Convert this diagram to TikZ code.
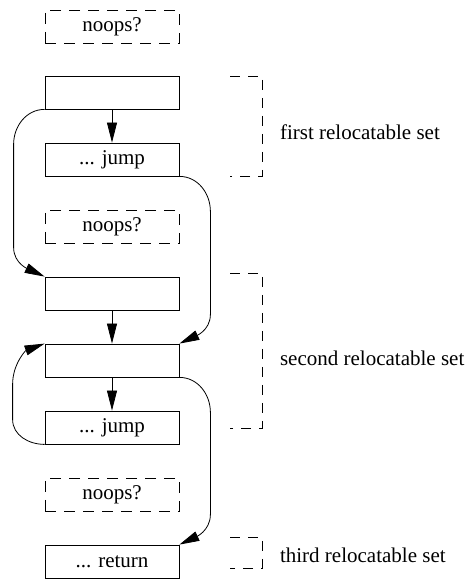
\documentclass[tikz,border=0pt]{standalone}
\usepackage{fontspec}
\setmainfont{Liberation Serif}
\usepackage{tikz}
\usetikzlibrary{positioning, arrows.meta}
\tikzset{block/.style = {draw, minimum width=67pt, minimum height=16.5pt, inner sep=0pt},
         noops/.style = {block, dash pattern=on 5.5pt off 4pt},
         bracket/.style = {dash pattern=on 5pt off 4pt},
         arr/.style = {-{Triangle[length=10pt,width=5pt]}}}

\begin{document}
\begin{tikzpicture}[x=0.5pt, y=0.5pt, font=\fontsize{10.5}{12}\selectfont]
        \useasboundingbox (0,0) rectangle (468,584);
        \node [noops] (N1) at (112, 557.5) {noops?};
        \node [block] (A)  at (112, 491.5) {};
        \node [block] (B)  at (112, 424.5) {... jump};
        \node [noops] (N2) at (112, 357.5) {noops?};
        \node [block] (C)  at (112, 290.5) {};
        \node [block] (D)  at (112, 223.5) {};
        \node [block] (E)  at (112, 156.5) {... jump};
        \node [noops] (N3) at (112,  89.5) {noops?};
        \node [block] (F)  at (112,  22.5) {... return};
        % straight arrows
        \draw [arr] (A) -- (B);
        \draw [arr] (C) -- (D);
        \draw [arr] (D) -- (E);
        % jumps
        \draw [arr] (A.south west) to[out=180,in=90] ++(-31,-35) -- ++(0,-103) to[out=-90,in=155] (C.north west);
        \draw [arr] (B.south east) to[out=0,in=90] ++(31,-35) -- ++(0,-103) to[out=-90,in=25] (D.north east);
        \draw [arr] (E.south west) to[out=180,in=-90] ++(-32,25) -- ++(0,35) to[out=90,in=200] (D.north west);
        \draw [arr] (D.south east) to[out=0,in=90] ++(31,-35) -- ++(0,-102) to[out=-90,in=25] (F.north east);
        % sets
        \draw [bracket] (230,508) -| (262,408) -- (230,408);
        \draw [bracket] (230,311) -| (262,156) -- (230,156);
        \draw [bracket] (230,47) -| (262,16) -- (230,16);
        \node [anchor=west] (S1) at (273,452) {first relocatable set};
        \node [anchor=west] (S2) at (273,226) {second relocatable set};
        \node [anchor=west] (S3) at (273,29) {third relocatable set};
    \end{tikzpicture}
\end{document}
